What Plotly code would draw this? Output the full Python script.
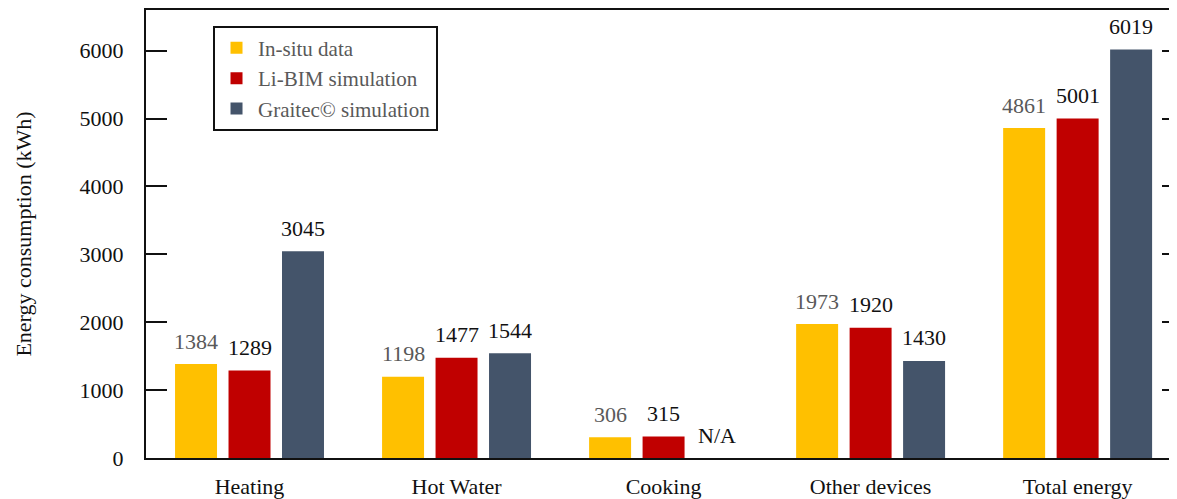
import plotly.graph_objects as go

categories = ["Heating", "Hot Water", "Cooking", "Other devices", "Total energy"]
series_names = ["In-situ data", "Li-BIM simulation", "Graitec© simulation"]
insitu = [1384, 1198, 306, 1973, 4861]
libim = [1289, 1477, 315, 1920, 5001]
graitec = [3045, 1544, None, 1430, 6019]
series_values = [insitu, libim, graitec]
colors = ["#FFC000", "#C00000", "#44546A"]
label_colors = ["#595959", "#111111", "#111111"]
y_ticks = [0, 1000, 2000, 3000, 4000, 5000, 6000]

FONT = "Liberation Serif"
# page has an 8px body margin; size figure so the plot lands where the reference has it
W, H = 1169, 491
ML, MR, MT, MB = 138, 0, 2, 39
bargap, bargroupgap = 0.225, 0.215
xrange = [-0.5, 4.48]

fig = go.Figure()
for name, vals, c in zip(series_names, series_values, colors):
    fig.add_trace(go.Bar(x=categories, y=vals, name=name, marker_color=c,
                         marker_line_width=0))
# invisible trace to create right axis (mirror ticks)
fig.add_trace(go.Scatter(x=categories, y=[None]*5, yaxis="y2", showlegend=False,
                         hoverinfo="skip", mode="markers"))

px_per_cat = (W - ML - MR) / (xrange[1] - xrange[0])
slot = px_per_cat * (1 - bargap) / 3

annotations = []
for i, vals in enumerate(series_values):
    for j, v in enumerate(vals):
        annotations.append(dict(
            x=categories[j], y=v if v is not None else 0,
            text=str(v) if v is not None else "N/A",
            xshift=(i - 1) * slot, yshift=23, showarrow=False,
            yanchor="middle", xanchor="center",
            font=dict(family=FONT, size=22,
                      color=label_colors[i] if v is not None else "#111111")))

fig.update_layout(
    width=W, height=H,
    margin=dict(l=ML, r=MR, t=MT, b=MB, pad=0),
    plot_bgcolor="white", paper_bgcolor="white",
    barmode="group", bargap=bargap, bargroupgap=bargroupgap,
    font=dict(family=FONT, size=22, color="#111111"),
    annotations=annotations,
    showlegend=True,
    legend=dict(x=0.065, y=0.965, xanchor="left", yanchor="top",
                bordercolor="#111111", borderwidth=2, bgcolor="white",
                font=dict(family=FONT, size=21, color="#595959"),
                tracegroupgap=0, itemwidth=33),
    xaxis=dict(range=xrange, showline=True, linecolor="#111111", linewidth=2,
               mirror=True, ticks="", showgrid=False, zeroline=False,
               ticklabelstandoff=8,
               tickfont=dict(family=FONT, size=22, color="#111111")),
    yaxis=dict(range=[0, 6600], tickvals=y_ticks, showline=True,
               linecolor="#111111", linewidth=2, ticks="inside", ticklen=21,
               tickwidth=2, tickcolor="#111111", showgrid=False, zeroline=False,
               ticklabelstandoff=16,
               tickfont=dict(family=FONT, size=22, color="#111111"),
               title=dict(text="Energy consumption (kWh)", standoff=42,
                          font=dict(family=FONT, size=22, color="#111111"))),
    yaxis2=dict(range=[0, 6600], tickvals=y_ticks, overlaying="y", side="right",
                showline=False, ticks="inside", ticklen=15, tickwidth=2,
                tickcolor="#111111", showticklabels=False, showgrid=False,
                zeroline=False),
)

fig.write_html("out.html")
